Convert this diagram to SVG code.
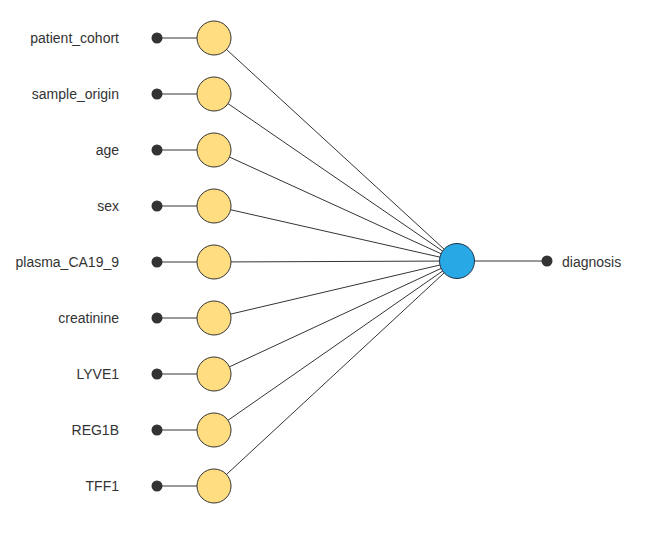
<svg xmlns="http://www.w3.org/2000/svg" width="671" height="545" viewBox="0 0 671 545">
<style>
.l{stroke:#000;stroke-width:0.8;fill:none}
.in{fill:#FFDD80;stroke:#333;stroke-width:1}
.out{fill:#29A8E6;stroke:#234;stroke-width:1}
.d{fill:#333}
text{font-family:"Liberation Sans",Arial,sans-serif;font-size:14px;fill:#333}
.r{text-anchor:end}
</style>
<rect width="671" height="545" fill="#fff"/>
<g id="connectors" class="l">
<path d="M157 38H214M214 38L457 261"/>
<path d="M157 94H214M214 94L457 261"/>
<path d="M157 150H214M214 150L457 261"/>
<path d="M157 206H214M214 206L457 261"/>
<path d="M157 262H214M214 262L457 261"/>
<path d="M157 318H214M214 318L457 261"/>
<path d="M157 374H214M214 374L457 261"/>
<path d="M157 430H214M214 430L457 261"/>
<path d="M157 486H214M214 486L457 261"/>
<path d="M457 261H547"/>
</g>
<g id="n1"><circle class="d" cx="157" cy="38" r="5.5"/><circle class="in" cx="214" cy="38" r="17"/><text class="r" x="119" y="43">patient_cohort</text></g>
<g id="n2"><circle class="d" cx="157" cy="94" r="5.5"/><circle class="in" cx="214" cy="94" r="17"/><text class="r" x="119" y="99">sample_origin</text></g>
<g id="n3"><circle class="d" cx="157" cy="150" r="5.5"/><circle class="in" cx="214" cy="150" r="17"/><text class="r" x="119" y="155">age</text></g>
<g id="n4"><circle class="d" cx="157" cy="206" r="5.5"/><circle class="in" cx="214" cy="206" r="17"/><text class="r" x="119" y="211">sex</text></g>
<g id="n5"><circle class="d" cx="157" cy="262" r="5.5"/><circle class="in" cx="214" cy="262" r="17"/><text class="r" x="119" y="267">plasma_CA19_9</text></g>
<g id="n6"><circle class="d" cx="157" cy="318" r="5.5"/><circle class="in" cx="214" cy="318" r="17"/><text class="r" x="119" y="323">creatinine</text></g>
<g id="n7"><circle class="d" cx="157" cy="374" r="5.5"/><circle class="in" cx="214" cy="374" r="17"/><text class="r" x="119" y="379">LYVE1</text></g>
<g id="n8"><circle class="d" cx="157" cy="430" r="5.5"/><circle class="in" cx="214" cy="430" r="17"/><text class="r" x="119" y="435">REG1B</text></g>
<g id="n9"><circle class="d" cx="157" cy="486" r="5.5"/><circle class="in" cx="214" cy="486" r="17"/><text class="r" x="119" y="491">TFF1</text></g>
<g id="out"><circle class="out" cx="457" cy="261" r="17.5"/><circle class="d" cx="547" cy="261" r="5.5"/><text x="562" y="267">diagnosis</text></g>
</svg>
